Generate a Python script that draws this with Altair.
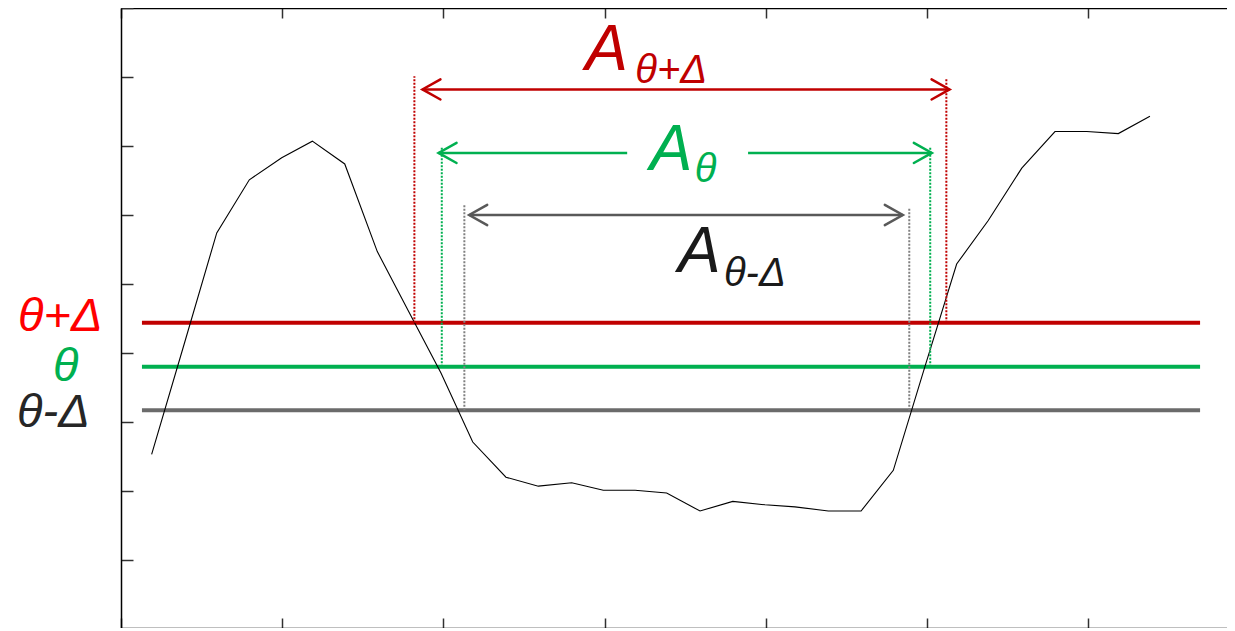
import altair as alt
import pandas as pd

# ---------------- data ----------------
curve_x = [0.190, 0.392, 0.594, 0.796, 0.997, 1.187, 1.388, 1.590, 1.787, 1.985,
           2.182, 2.388, 2.589, 2.796, 2.992, 3.189, 3.385, 3.592, 3.795, 3.995,
           4.181, 4.388, 4.591, 4.791, 4.988, 5.184, 5.380, 5.588, 5.794, 5.991,
           6.187, 6.383]
curve_y = [2.53, 4.13, 5.74, 6.51, 6.83, 7.07, 6.74, 5.47, 4.59, 3.71,
           2.71, 2.20, 2.07, 2.12, 2.01, 2.01, 1.97, 1.71, 1.85, 1.80,
           1.77, 1.71, 1.71, 2.30, 3.81, 5.29, 5.92, 6.68, 7.21, 7.21,
           7.18, 7.43]

level_names = ["θ+Δ", "θ", "θ-Δ"]
level_y = [4.44, 3.80, 3.17]
level_x_start = [0.130, 0.130, 0.130]
level_x_end = [6.694, 6.694, 6.694]
level_colors = ["#C00000", "#00B050", "#6B6B6B"]

# dotted vertical markers (crossing points)
mark_x = [1.82, 5.12, 1.99, 5.02, 2.13, 4.89]
mark_top = [8.01, 7.99, 6.99, 6.99, 6.16, 6.09]
mark_bottom = [4.44, 4.44, 3.80, 3.80, 3.17, 3.17]
mark_colors = ["#C00000", "#C00000", "#00B050", "#00B050", "#808080", "#808080"]

# arrow shafts
shaft_x1 = [1.87, 1.97, 3.89, 2.16]
shaft_x2 = [5.14, 3.14, 5.03, 4.85]
shaft_y = [7.82, 6.90, 6.90, 6.00]
shaft_colors = ["#C00000", "#00B050", "#00B050", "#595959"]

# arrow heads
LEFT_HEAD = "M1,-0.56L0,0L1,0.56"
RIGHT_HEAD = "M-1,-0.56L0,0L-1,0.56"
head_x = [1.87, 1.97, 2.16, 5.14, 5.03, 4.85]
head_y = [7.82, 6.90, 6.00, 7.82, 6.90, 6.00]
head_shape = [LEFT_HEAD, LEFT_HEAD, LEFT_HEAD, RIGHT_HEAD, RIGHT_HEAD, RIGHT_HEAD]
head_colors = ["#C00000", "#00B050", "#595959", "#C00000", "#00B050", "#595959"]

# area labels  A_sub
a_text = ["A", "A", "A"]
a_x = [2.88, 3.28, 3.455]
a_y = [8.10, 6.65, 5.17]
a_colors = ["#C00000", "#00B050", "#1A1A1A"]
sub_text = ["θ+Δ", "θ", "θ-Δ"]
sub_x = [3.19, 3.56, 3.74]
sub_y = [7.91, 6.48, 4.97]

# threshold labels at the left
lab_text = ["θ+Δ", "θ", "θ-Δ"]
lab_x = [-0.639, -0.422, -0.645]
lab_y = [4.32, 3.60, 2.93]
lab_colors = ["#FF0000", "#00B050", "#262626"]

x_tick_values = [0, 1, 2, 3, 4, 5, 6]
y_tick_values = [1, 2, 3, 4, 5, 6, 7, 8, 9]

# ---------------- layout ----------------
W, H = 1106, 620
PX_PER_X = 161.2
PX_PER_Y = 69.0
XDOM = [0, W / PX_PER_X]
YDOM = [9.0 - H / PX_PER_Y, 9.0]
FONT = "Liberation Sans"

common_axis = dict(labels=False, title=None, grid=False, domain=True,
                   domainColor="black", domainWidth=1.5, ticks=True,
                   tickColor="#303030", tickWidth=1.5)
axis_top_frame = alt.Axis(orient="bottom", offset=-H, values=x_tick_values,
                          tickSize=10, **common_axis)
axis_bottom_frame = alt.Axis(orient="top", offset=-H, values=x_tick_values,
                             tickSize=10, **common_axis)
axis_left_frame = alt.Axis(orient="right", offset=-W, values=y_tick_values,
                           tickSize=12, **common_axis)


def X(field, axis=None):
    return alt.X(field, type="quantitative",
                 scale=alt.Scale(domain=XDOM, nice=False, zero=False), axis=axis)


def Y(field):
    return alt.Y(field, type="quantitative",
                 scale=alt.Scale(domain=YDOM, nice=False, zero=False),
                 axis=axis_left_frame)


levels = pd.DataFrame({"name": level_names, "y": level_y, "x": level_x_start,
                       "x2": level_x_end, "c": level_colors})
curve = pd.DataFrame({"x": curve_x, "y": curve_y})
marks = pd.DataFrame({"x": mark_x, "y": mark_bottom, "y2": mark_top, "c": mark_colors})
shafts = pd.DataFrame({"x": shaft_x1, "x2": shaft_x2, "y": shaft_y, "c": shaft_colors})
heads = pd.DataFrame({"x": head_x, "y": head_y, "s": head_shape, "c": head_colors})
a_df = pd.DataFrame({"t": a_text, "x": a_x, "y": a_y, "c": a_colors})
sub_df = pd.DataFrame({"t": sub_text, "x": sub_x, "y": sub_y, "c": a_colors})
lab_df = pd.DataFrame({"t": lab_text, "x": lab_x, "y": lab_y, "c": lab_colors})

level_layer = alt.Chart(levels).mark_rule(strokeWidth=4).encode(
    x=X("x", axis_top_frame), x2="x2", y=Y("y"),
    color=alt.Color("c:N", scale=None))

curve_layer = alt.Chart(curve).mark_line(color="black", strokeWidth=1.1).encode(
    x=X("x", axis_bottom_frame), y=Y("y"))

mark_layer = alt.Chart(marks).mark_rule(strokeWidth=2, strokeDash=[2, 1.5]).encode(
    x=X("x"), y=Y("y"), y2="y2", color=alt.Color("c:N", scale=None))

shaft_layer = alt.Chart(shafts).mark_rule(strokeWidth=2.5).encode(
    x=X("x"), x2="x2", y=Y("y"), color=alt.Color("c:N", scale=None))

head_layer = alt.Chart(heads).mark_point(filled=False, size=1296, strokeWidth=2.5,
                                         opacity=1, strokeCap="round").encode(
    x=X("x"), y=Y("y"), shape=alt.Shape("s:N", scale=None),
    color=alt.Color("c:N", scale=None))

a_layer = alt.Chart(a_df).mark_text(font=FONT, fontStyle="italic", fontSize=64,
                                    align="left", baseline="alphabetic").encode(
    x=X("x"), y=Y("y"), text="t:N", color=alt.Color("c:N", scale=None))

sub_layer = alt.Chart(sub_df).mark_text(font=FONT, fontStyle="italic", fontSize=40,
                                        align="left", baseline="alphabetic").encode(
    x=X("x"), y=Y("y"), text="t:N", color=alt.Color("c:N", scale=None))

lab_layer = alt.Chart(lab_df).mark_text(font=FONT, fontStyle="italic", fontSize=47,
                                        align="left", baseline="alphabetic").encode(
    x=X("x"), y=Y("y"), text="t:N", color=alt.Color("c:N", scale=None))

chart = alt.layer(
    level_layer, curve_layer, mark_layer, shaft_layer, head_layer,
    a_layer, sub_layer, lab_layer
).resolve_axis(x="independent").properties(
    width=W, height=H,
    autosize=alt.AutoSizeParams(type="none"),
    padding={"left": 113, "top": 0, "right": 0, "bottom": 0},
).configure_view(strokeWidth=0, strokeOpacity=0)

chart.save("out.html", embed_options={"renderer": "svg", "actions": False})
